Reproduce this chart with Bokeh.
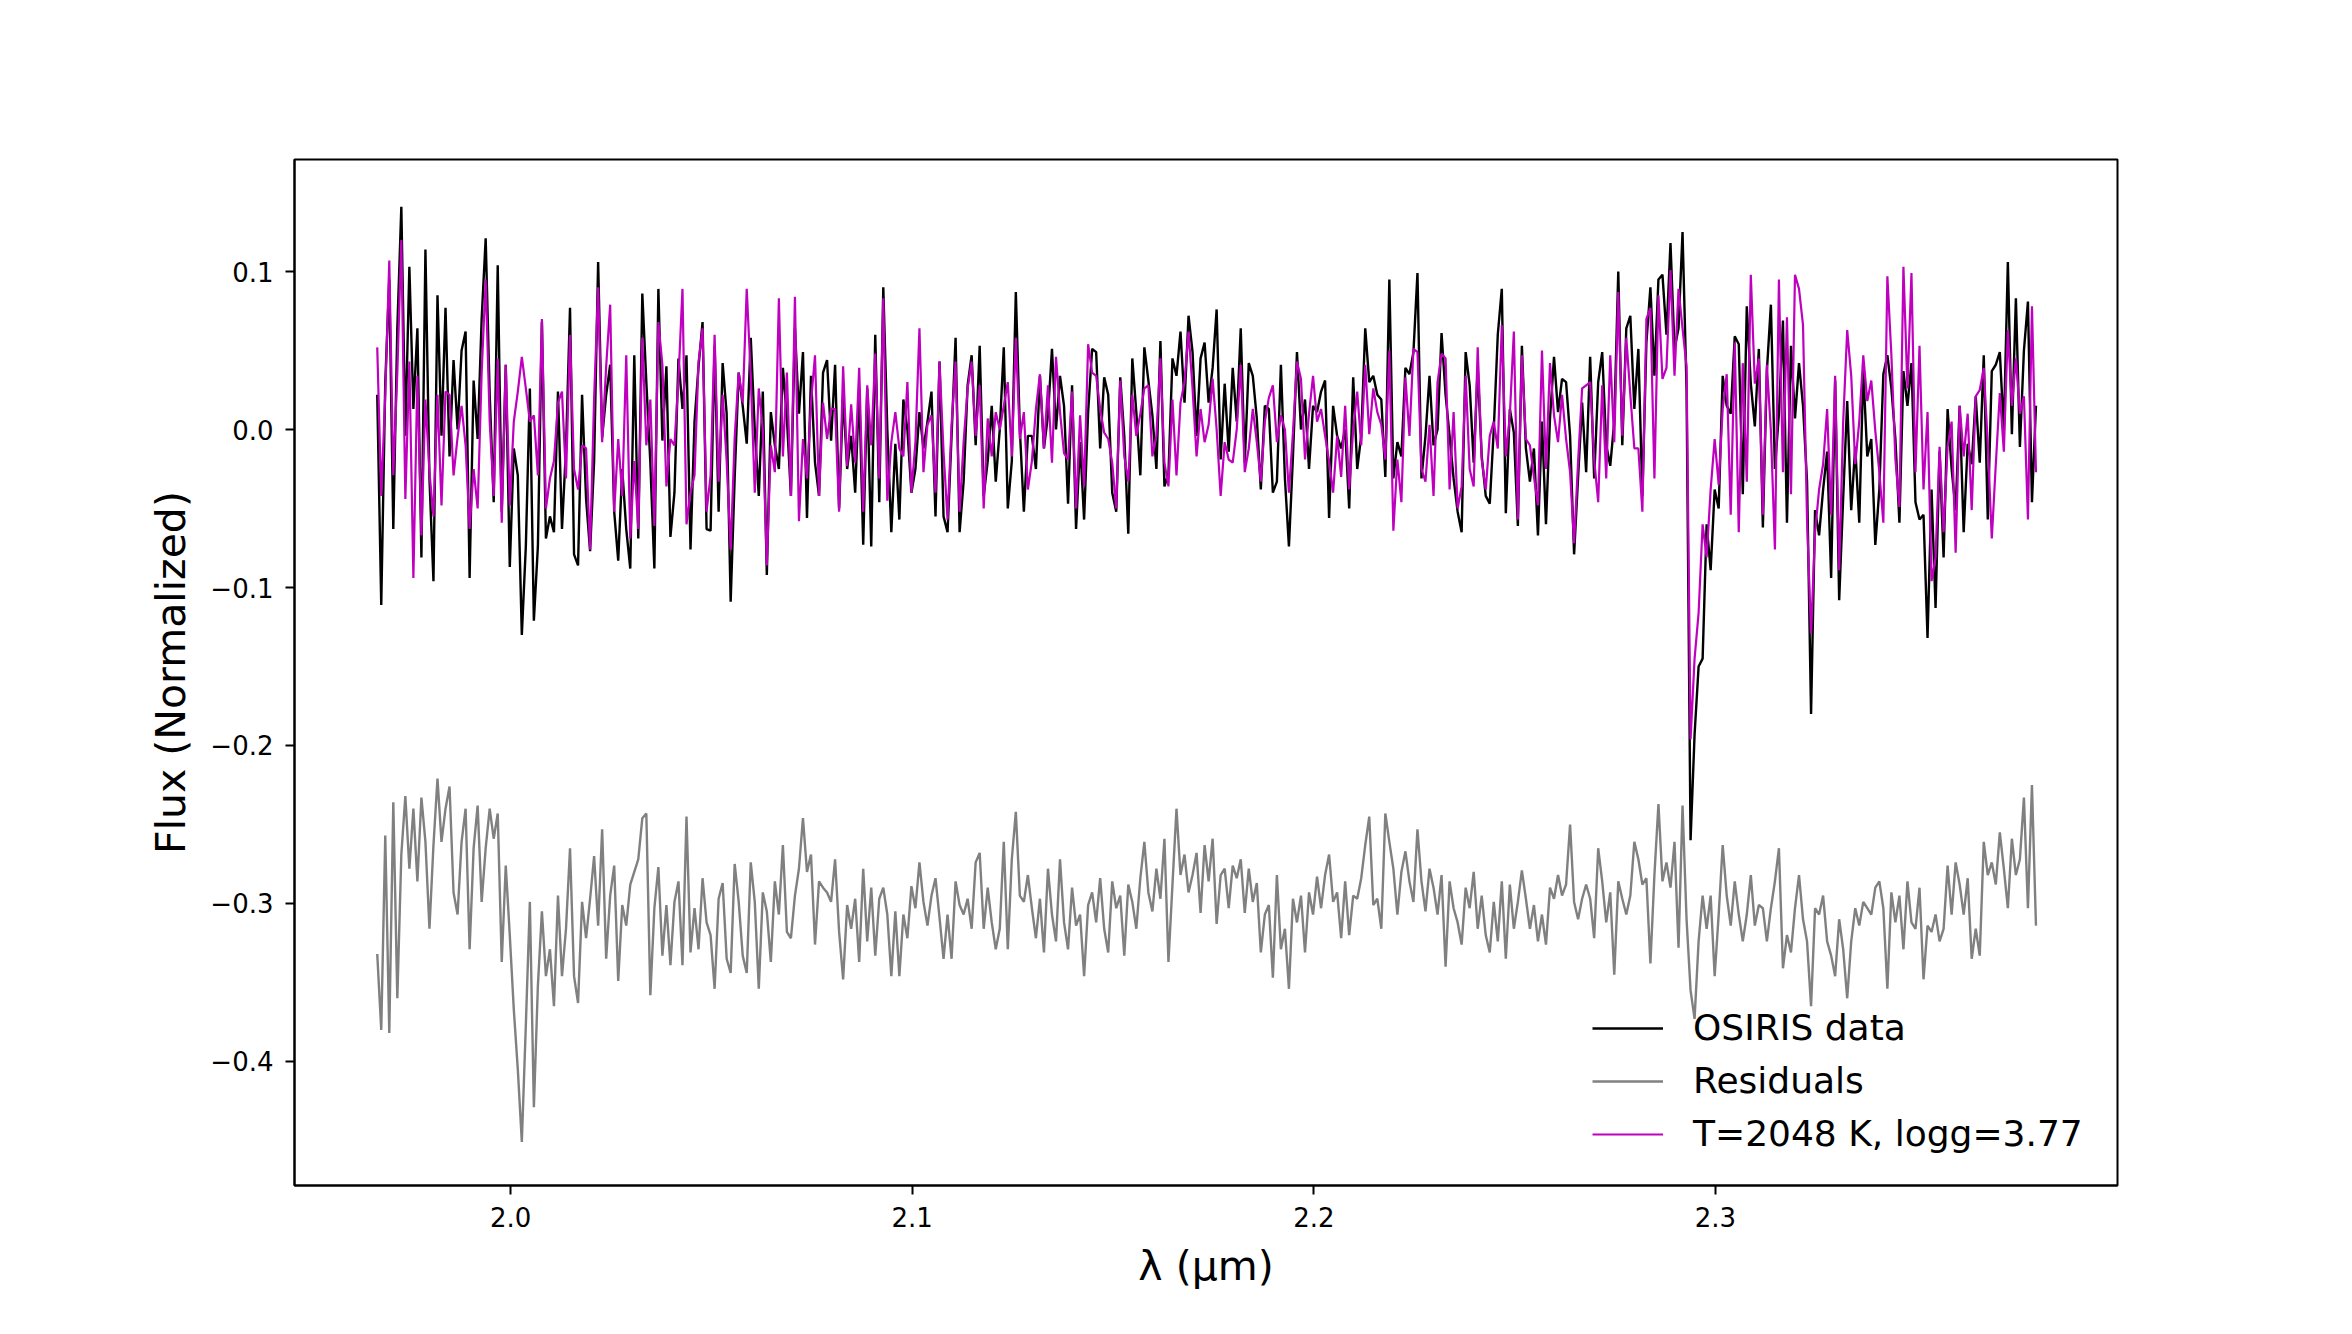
import numpy as np
from bokeh.plotting import figure
from bokeh.models import Range1d, Legend, LegendItem, FixedTicker, CustomJSTickFormatter
from bokeh.embed import file_html
from bokeh.resources import INLINE

# Wavelength grid (micron): uniform OSIRIS sampling
WAVE_START = 1.9668
WAVE_STEP = 0.001
FLUX_UNIT = 0.001  # values below are in units of 1e-3 (normalized flux)

# OSIRIS data (normalized flux, x1e-3)
osiris_flux = [
    22, -111, 30, 95, -63, 64, 141, -4, 103, 13,
    64, -81, 114, -31, -96, 85, -4, 77, -17, 44,
    0, 50, 62, -94, 31, -6, 70, 121, 22, -46,
    104, -52, 41, -87, -12, -29, -130, -74, 26, -121,
    -74, 68, -69, -55, -65, 24, -63, -12, 77, -79,
    -86, 22, -44, -77, -20, 106, -5, 22, 41, -52,
    -83, -25, -63, -88, 47, -69, 86, 30, -21, -88,
    89, -7, 40, -68, -40, 45, 13, 47, -76, 5,
    40,
    68, -63, -64, 53, -52, 42, 10, -109, -30, 36,
    15, -9, 58, 0, -42, 24, -92, 11, -10, -25,
    39, 7, -42, 64, 10, 49, -56, 34, -21, -42,
    36, 44, -7, 41, -50, 22, -25, -4, -40, 26,
    -73, 26, -74, 60, -46, 90, 0, -65, -9, -57,
    19, 0, -40, -25, 11, -12, 5, 24, -55, 43,
    -55, -65, -4, 58, -65, -33, 28, 47, -10, 53,
    -42, -20, 15, -33, 0, 52, -50, -20, 87, 0,
    -52, -4,
    -4, -25, 34, -12, 9, 51, 0, 34, 15, -47,
    28, -63, -8, -57, 11, 51, 49, -12, 33, 22,
    -40, -52, 33, -4, -66, 45, 11, -29, 52, 31,
    9, -25, 56, -36, -28, 45, 34, 62, 17, 72,
    49, -4, 45, 55, 17, 39, 76, -19, 29, -14,
    39, 5, 64, -21, 42, 34, 7, -38, 15, 13,
    -40, -33, 41, -31, -74, -17, 49, 0, 19, -25,
    15, 11, 24, 31, -56, 15, -4, -12, 0, -50,
    33, -25,
    -4, 64, 30, 34, 22, 19, -30, 95, -31, -8,
    -17, 39, 35, 49, 99, -31, -4, 34, -10, 0,
    61, 22, -4, -31, -52, -65, 49, 28, -21, 39,
    -17, -42, -47, 0, 60, 89, -53, 13, -2, -61,
    53, -12, -33, -12, -67, 5, -60, 7, 46, 11,
    32, 30, -4, -79, -30, 17, -27, 46, -31, 30,
    49, -10, -23, 5, 100, -10, 64, 72, 13, 51,
    -42, 55, 90, 34, 95, 98, 60, 118, 51, 64,
    125, 26,
    -260, -193, -150, -145, -60, -89, -38, -50, 34, 15,
    10, 59, 54, -41, 78, 29, 2, 51, -62, 37,
    79, -25, 10, 69, -59, 53, 7, 42, 15, -33,
    -180, -51, -67, -38, -14, -94, 31, -108, -43, 18,
    -51, -11, -59, 37, -17, -6, -73, -38, 35, 47,
    26, -6, -59, 37, 15, 42, -46, -57, -54, -132,
    -38, -113, -14, -81, 13, -25, -51, 15, -65, -9,
    -22, 21, -21, 47, -57, 37, 41, 49, -1, 106,
    -3, 83, -11, 50, 81, -46, 15,
]

# Model spectrum T=2048 K, log g=3.77 (normalized flux, x1e-3)
model_flux = [
    52, -42, 22, 107, -29, 36, 120, -44, 43, -94,
    34, -67, 19, -27, -55, 22, -48, 24, 22, -29,
    -5, 15, -10, -63, -25, -50, 36, 95, 5, -42,
    45, -59, 41, -48, 5, 24, 46, 26, 5, 9,
    -29, 70, -50, -31, -20, 17, 24, -31, 60, -25,
    -38, -10, -12, -76, 20, 90, -8, 40, 79, -52,
    -6, -42, 47, -69, -20, -63, 58, -10, 19, -61,
    68, 41, -36, -6, -10, 32, 89, -60, -40, -29,
    43,
    64, -52, -29, 60, -33, 22, -20, -76, -5, 36,
    17, 89, 34, -40, 26, 0, -86, -10, -27, 83,
    -17, 36, -42, 84, -58, -6, -31, 17, 47, -42,
    17, -6, 13, 13, -52, 40, -23, 16, -21, 39,
    -52, 28, -10, 48, -31, 83, -45, -8, 11, -12,
    -17, 30, -40, -8, 64, -27, 3, 9, -40, 43,
    -14, -57, 3, 43, -52, -8, 26, 43, -4, 28,
    -50, 7, -17, 11, 0, 15, 30, -17, 58, -6,
    11, -38,
    -20, 13, 35, -12, 28, -21, 46, 11, -15, -19,
    24, -50, 9, -36, 54, 36, 34, 13, -2, -6,
    -21, -50, 31, -17, -33, 22, -4, 10, 26, 28,
    -17, -4, 45, -21, -36, 19, -29, 17, 30, 62,
    26, -17, 13, -8, 3, 32, 0, -42, -8, -19,
    -21, 0, 41, -27, -12, 13, -8, -33, 5, 20,
    28, -8, 9, 0, -40, -2, 43, 32, -19, 10,
    34, 5, 13, -4, -20, -40, -4, -30, 15, -38,
    0, 24,
    -10, 41, -3, 26, 11, 3, -19, 50, -64, -19,
    -46, 33, -4, 51, 49, -25, -33, 3, -42, 30,
    48, 45, -38, 11, -50, -36, 34, -25, -36, 52,
    -19, -38, -4, 5, -12, 66, -17, 9, 62, -57,
    47, -6, -10, -30, -48, 50, -25, 42, 9, -8,
    22, -6, -27, -72, -20, 26, 28, 30, -19, -46,
    28, -31, 47, -8, 87, -4, 58, 22, -12, -12,
    -52, 70, 77, -31, 85, 32, 39, 101, 34, 89,
    64, 40,
    -196, -145, -116, -60, -81, -38, -6, -35, 13, 35,
    -54, 55, -65, 42, -33, 98, 29, 45, -54, 41,
    -1, -76, 95, -27, 71, -41, 98, 89, 66, -57,
    -129, -65, -38, -22, 13, -54, 34, -89, 5, 63,
    34, -22, 5, 47, 18, 31, -1, -27, -59, 97,
    47, -19, -49, 103, 26, 99, -27, 53, -38, 11,
    -96, -81, -11, -65, -11, 5, -78, 15, -17, 10,
    -51, 21, 25, 39, -9, -69, -22, 23, -14, 63,
    15, 45, 10, 21, -57, 78, -27,
]

# Residuals, offset (normalized flux, x1e-3)
residual_flux = [
    -332, -380, -257, -382, -236, -360, -269, -232, -278, -240,
    -286, -233, -261, -316, -263, -221, -261, -240, -226, -293,
    -307, -261, -240, -329, -265, -238, -299, -265, -240, -259,
    -243, -337, -276, -320, -367, -405, -451, -377, -299, -429,
    -352, -305, -346, -329, -365, -295, -346, -316, -265, -346,
    -363, -299, -322, -297, -270, -314, -253, -335, -295, -276,
    -349, -301, -314, -288, -280, -272, -246, -243, -358, -303,
    -277, -333, -301, -339, -299, -286, -339, -245, -331, -303,
    -329, -284, -312, -320, -354, -297, -287, -335, -344, -275,
    -299, -333, -344, -274, -299, -354, -293, -305, -337, -286,
    -307, -263, -318, -322, -295, -278, -246, -280, -269, -326,
    -286, -290, -293, -299, -272, -318, -348, -301, -316, -297,
    -337, -278, -324, -290, -333, -297, -290, -307, -346, -305,
    -346, -307, -322, -289, -303, -274, -299, -314, -295, -284,
    -309, -335, -307, -335, -286, -301, -307, -297, -316, -274,
    -268, -316, -290, -312, -329, -316, -261, -329, -272, -242,
    -295, -299, -282, -303, -322, -297, -331, -278, -307, -324,
    -272, -312, -329, -290, -314, -307, -346, -301, -293, -312,
    -284, -316, -331, -286, -303, -295, -333, -288, -299, -316,
    -284, -261, -293, -305, -278, -297, -259, -337, -288, -240,
    -282, -269, -293, -282, -268,
    -306, -263, -286, -259, -313, -282, -278, -303, -276, -284,
    -272, -306, -278, -299, -287, -331, -307, -301, -347, -282,
    -329, -316, -354, -297, -312, -295, -331, -293, -307, -283,
    -303, -282, -269, -299, -293, -322, -286, -320, -295, -297,
    -284, -263, -245, -301, -297, -316, -243, -261, -278, -307,
    -280, -267, -286, -299, -253, -286, -305, -278, -290, -307,
    -282, -340, -286, -303, -312, -326, -290, -303, -280, -316,
    -295, -320, -331, -299, -324, -286, -335, -288, -316, -299,
    -279, -297, -316, -301, -324, -307, -326, -290, -297, -282,
    -295, -288, -250, -299, -310, -297, -288, -297, -322, -265,
    -286, -312, -293, -345, -286, -297, -307, -295, -261, -272,
    -288, -284, -338, -282, -237, -286, -274, -290, -261, -328,
    -238, -310, -355, -373, -324, -295, -316, -295, -346, -307,
    -263, -295, -314, -286, -307, -324, -307, -282, -314, -301,
    -303, -324, -303, -286, -265, -341, -320, -331, -303, -282,
    -310, -324, -365, -303, -307, -295, -324, -333, -346, -310,
    -329, -360, -324, -303, -314, -299, -303, -307, -290, -286,
    -303, -354, -293, -312, -295, -329, -286, -312, -316, -290,
    -348, -314, -318, -307, -324, -316, -276, -307, -274, -288,
    -307, -284, -335, -316, -333, -261, -282, -274, -288, -255,
    -278, -303, -259, -282, -272, -233, -303, -225, -314,
]

# Axis ticks and labels
x_ticks = [2.0, 2.1, 2.2, 2.3]
y_ticks = [-0.4, -0.3, -0.2, -0.1, 0.0, 0.1]
x_label = "λ (μm)"
y_label = "Flux (Normalized)"
series_labels = ["OSIRIS data", "Residuals", "T=2048 K, logg=3.77"]
series_colors = ["#000000", "#808080", "#bf00bf"]

n = min(len(osiris_flux), len(model_flux), len(residual_flux))
wave = WAVE_START + WAVE_STEP * np.arange(n)
data = np.array(osiris_flux[:n]) * FLUX_UNIT
model = np.array(model_flux[:n]) * FLUX_UNIT
resid = np.array(residual_flux[:n]) * FLUX_UNIT

FONT = "DejaVu Sans"

p = figure(
    frame_width=1823, frame_height=1026,
    min_border_left=294, min_border_right=219,
    min_border_top=159, min_border_bottom=133,
    x_range=Range1d(1.9462, 2.4001), y_range=Range1d(-0.4785, 0.1709),
    output_backend="svg", toolbar_location=None,
    background_fill_color="white", border_fill_color="white",
)
p.xgrid.visible = False
p.ygrid.visible = False
p.outline_line_color = "black"
p.outline_line_width = 2
p.outline_line_alpha = 1.0

r_data = p.line(wave, data, line_color=series_colors[0], line_width=2.4)
r_res = p.line(wave, resid, line_color=series_colors[1], line_width=2.4)
r_model = p.line(wave, model, line_color=series_colors[2], line_width=2.2)

fmt = CustomJSTickFormatter(code="return tick.toFixed(1).replace('-', '\u2212');")
for ax, ticks, lab in ((p.xaxis[0], x_ticks, x_label), (p.yaxis[0], y_ticks, y_label)):
    ax.ticker = FixedTicker(ticks=ticks, minor_ticks=[])
    ax.formatter = fmt
    ax.axis_label = lab
    ax.axis_label_text_font = FONT
    ax.axis_label_text_font_size = "41px"
    ax.axis_label_text_font_style = "normal"
    ax.axis_label_text_color = "black"
    ax.major_label_text_font = FONT
    ax.major_label_text_font_size = "26px"
    ax.major_label_text_color = "black"
    ax.major_tick_out = 9
    ax.major_tick_in = 0
    ax.minor_tick_out = 0
    ax.minor_tick_in = 0
    ax.major_tick_line_width = 2
    ax.major_tick_line_color = "black"
    ax.axis_line_width = 2
    ax.axis_line_color = "black"
    ax.major_label_standoff = 12
p.yaxis[0].axis_label_standoff = 12
p.xaxis[0].axis_label_standoff = 12

legend = Legend(
    items=[
        LegendItem(label=series_labels[0], renderers=[r_data]),
        LegendItem(label=series_labels[1], renderers=[r_res]),
        LegendItem(label=series_labels[2], renderers=[r_model]),
    ],
    location=(1288, 21),
    orientation="vertical",
    label_text_font=FONT,
    label_text_font_size="36px",
    label_text_color="black",
    glyph_width=71,
    glyph_height=40,
    label_height=40,
    label_standoff=30,
    spacing=12,
    padding=10,
    margin=0,
    border_line_alpha=0,
    background_fill_alpha=0,
)
p.add_layout(legend, "center")

open("out.html", "w").write(file_html(p, INLINE))
